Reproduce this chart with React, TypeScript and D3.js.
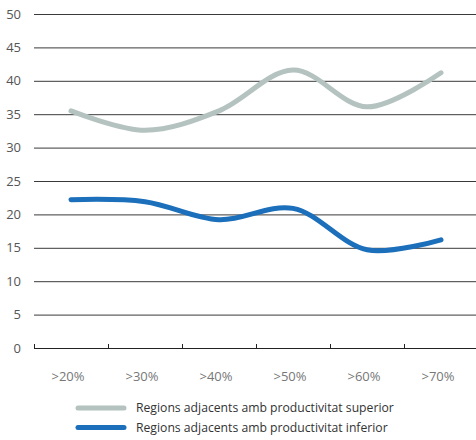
import React from "react";
import * as d3 from "d3";

const categories = [">20%", ">30%", ">40%", ">50%", ">60%", ">70%"];
const superiorValues = [35.5, 32.6, 35.5, 41.6, 36.1, 41.2];
const inferiorValues = [22.2, 21.9, 19.2, 20.9, 14.7, 16.2];
const yTicks = [0, 5, 10, 15, 20, 25, 30, 35, 40, 45, 50];
const seriesNames = [
  "Regions adjacents amb productivitat superior",
  "Regions adjacents amb productivitat inferior",
];
const seriesColors = ["#b4c3c0", "#1c6fbb"];

const W = 476;
const H = 440;
const left = 34;
const right = 478;
const top = 14;
const bottom = 348;

export default function App() {
  const x = d3.scaleBand<string>().domain(categories).range([left, right]).padding(0);
  const y = d3.scaleLinear().domain([0, 50]).range([bottom, top]);
  const cx = (c: string) => (x(c) as number) + x.bandwidth() / 2;
  const line = d3
    .line<number>()
    .x((_, i) => cx(categories[i]))
    .y((d) => y(d))
    .curve(d3.curveCatmullRom.alpha(0.5));
  const series = [superiorValues, inferiorValues];
  const font = "'Open Sans', 'DejaVu Sans', sans-serif";

  return (
    <svg
      width={W}
      height={H}
      style={{ position: "absolute", left: 0, top: 0, background: "#fff" }}
      fontFamily={font}
    >
      {yTicks.map((t) => (
        <g key={t}>
          {t > 0 && (
            <line x1={left} x2={W} y1={y(t) + 0.5} y2={y(t) + 0.5} stroke="#3a3a3a" strokeWidth={1} />
          )}
          <text x={21} y={y(t)} dy="0.36em" textAnchor="end" fontSize={13} fill="#555">
            {t}
          </text>
        </g>
      ))}
      <line x1={left} x2={W} y1={bottom + 0.5} y2={bottom + 0.5} stroke="#222" strokeWidth={1} />
      {categories.map((c) => (
        <line
          key={"tk" + c}
          x1={(x(c) as number) + 0.5}
          x2={(x(c) as number) + 0.5}
          y1={bottom}
          y2={bottom - 4}
          stroke="#222"
          strokeWidth={1}
        />
      ))}
      {categories.map((c) => (
        <text key={"lb" + c} x={cx(c) - 3} y={380.5} textAnchor="middle" fontSize={13} fill="#777">
          {c}
        </text>
      ))}
      {series.map((s, i) => (
        <path
          key={"s" + i}
          d={line(s) as string}
          fill="none"
          stroke={seriesColors[i]}
          strokeWidth={5}
          strokeLinecap="round"
        />
      ))}
      {seriesNames.map((n, i) => (
        <g key={"lg" + i}>
          <line
            x1={78}
            x2={124}
            y1={408 + i * 19.5}
            y2={408 + i * 19.5}
            stroke={seriesColors[i]}
            strokeWidth={5}
            strokeLinecap="round"
          />
          <text x={136} y={412 + i * 19.5} fontSize={12.2} fill="#333">
            {n}
          </text>
        </g>
      ))}
    </svg>
  );
}
